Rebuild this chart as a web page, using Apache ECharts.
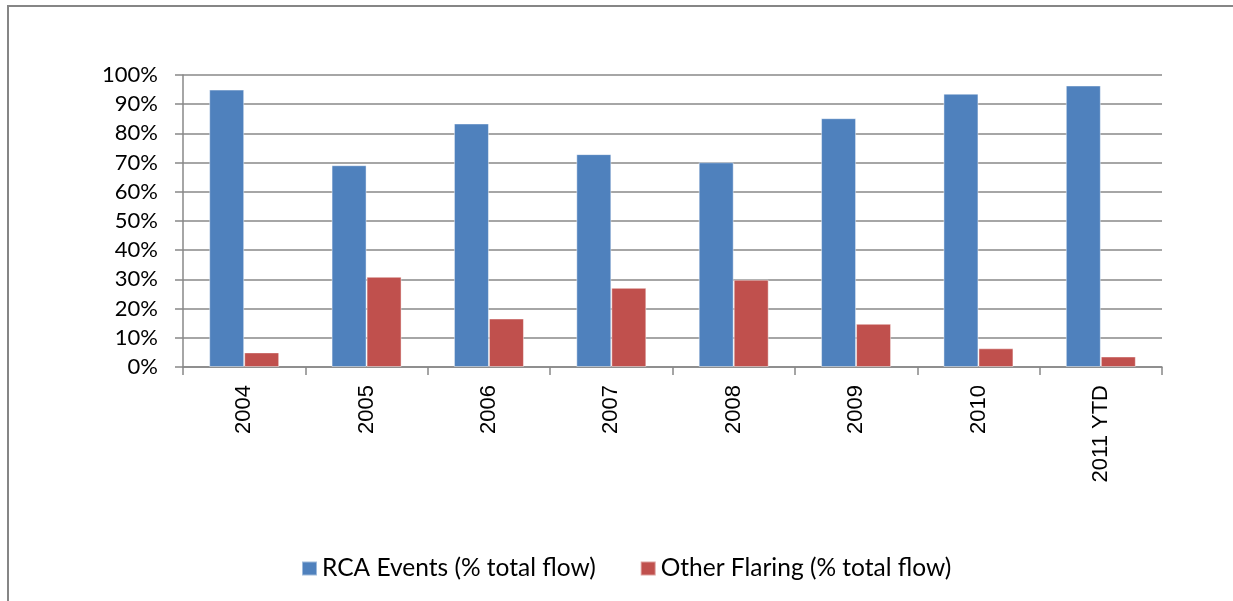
<!DOCTYPE html>
<html>
<head>
<meta charset="utf-8">
<script src="https://cdn.jsdelivr.net/npm/echarts@6/dist/echarts.min.js"></script>
<style>
  html, body { margin: 0; padding: 0; background: #fff; overflow: hidden; }
  #chart { position: absolute; left: 0; top: 0; width: 1233px; height: 601px; }
</style>
</head>
<body>
<div id="chart"></div>
<script>
// chart data
const years = ['2004', '2005', '2006', '2007', '2008', '2009', '2010', '2011 YTD'];
const rcaEvents = [95.0, 69.1, 83.4, 72.9, 70.1, 85.2, 93.6, 96.4];
const otherFlaring = [5.0, 30.9, 16.6, 27.1, 29.9, 14.8, 6.4, 3.6];
const seriesNames = ['RCA Events (% total flow)', 'Other Flaring (% total flow)'];

const myChart = echarts.init(document.getElementById('chart'));

const gridColor = '#888888';

const option = {
  animation: false,
  // outer chart frame (only top and left edges are visible)
  graphic: [
    {
      type: 'polyline',
      silent: true,
      shape: { points: [[8, 640], [8, 6], [1300, 6]] },
      style: { stroke: '#868686', lineWidth: 2, fill: null }
    }
  ],
  grid: { left: 183, right: 71, top: 75, bottom: 234 },
  legend: {
    left: 296,
    top: 551,
    itemWidth: 15,
    itemHeight: 14,
    itemGap: 44,
    icon: 'rect',
    textStyle: { fontFamily: 'Lato', fontSize: 24.5, color: '#000' },
    data: seriesNames
  },
  xAxis: {
    type: 'category',
    data: years,
    boundaryGap: true,
    axisLine: { lineStyle: { color: gridColor, width: 1.5 } },
    axisTick: { show: true, length: 8, lineStyle: { color: gridColor, width: 1.5 } },
    axisLabel: {
      rotate: 90,
      margin: 18,
      fontFamily: 'Liberation Sans',
      fontSize: 22,
      color: '#000'
    }
  },
  yAxis: {
    type: 'value',
    min: 0,
    max: 100,
    interval: 10,
    axisLine: { show: true, lineStyle: { color: gridColor, width: 1.5 } },
    axisTick: { show: true, length: 8, lineStyle: { color: gridColor, width: 1.5 } },
    splitLine: { lineStyle: { color: gridColor, width: 1.5 } },
    axisLabel: {
      margin: 25,
      fontFamily: 'Lato',
      fontSize: 22,
      color: '#000',
      formatter: '{value}%'
    }
  },
  series: [
    {
      name: seriesNames[0],
      type: 'bar',
      data: rcaEvents,
      barWidth: 35,
      barGap: '0%',
      itemStyle: { color: '#4F81BD', borderColor: 'rgba(255,255,255,0.45)', borderWidth: 1 }
    },
    {
      name: seriesNames[1],
      type: 'bar',
      data: otherFlaring,
      barWidth: 35,
      barGap: '0%',
      itemStyle: { color: '#C0504D', borderColor: 'rgba(255,255,255,0.45)', borderWidth: 1 }
    }
  ]
};

myChart.setOption(option);
</script>
</body>
</html>
